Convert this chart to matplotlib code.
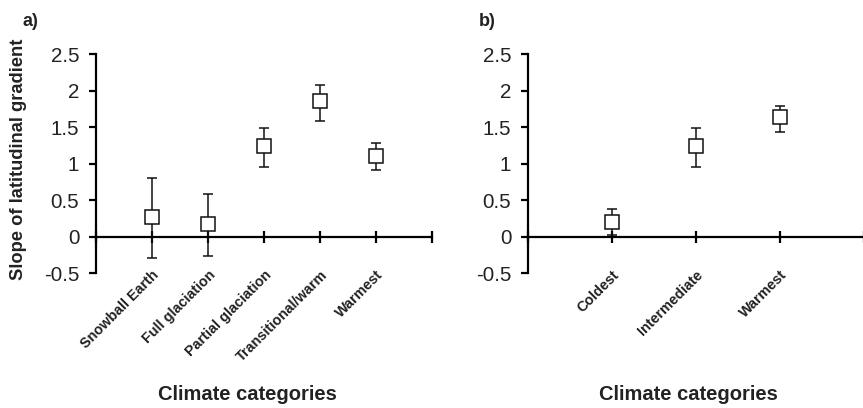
import matplotlib.pyplot as plt

plt.rcParams['font.family'] = ['Liberation Sans', 'DejaVu Sans']

# panel a
cats_a = ["Snowball Earth", "Full glaciation", "Partial glaciation", "Transitional/warm", "Warmest"]
mean_a = [0.27, 0.17, 1.245, 1.86, 1.10]
upper_a = [0.81, 0.58, 1.49, 2.07, 1.29]
lower_a = [-0.29, -0.26, 0.96, 1.59, 0.92]

# panel b
cats_b = ["Coldest", "Intermediate", "Warmest"]
mean_b = [0.21, 1.245, 1.64]
upper_b = [0.38, 1.49, 1.79]
lower_b = [0.02, 0.96, 1.44]

yticks = [-0.5, 0, 0.5, 1, 1.5, 2, 2.5]
ytick_labels = ["-0.5", "0", "0.5", "1", "1.5", "2", "2.5"]

W, H = 863, 408
fig = plt.figure(figsize=(W / 100, H / 100), dpi=100)

ax_a = fig.add_axes([96 / W, 1 - 273.5 / H, 336 / W, 219.5 / H])
ax_b = fig.add_axes([528 / W, 1 - 273.5 / H, 336 / W, 219.5 / H])


def draw_panel(ax, cats, mean, upper, lower):
    n = len(cats)
    xs = list(range(1, n + 1))
    err = [[m - lo for m, lo in zip(mean, lower)], [up - m for m, up in zip(mean, upper)]]
    ax.errorbar(xs, mean, yerr=err, fmt='none', ecolor='#111111', elinewidth=1.1,
                capsize=3.5, capthick=1.1, zorder=2)
    ax.plot(xs, mean, linestyle='none', marker='s', markersize=9.5,
            markerfacecolor='white', markeredgecolor='#111111', markeredgewidth=1.1, zorder=3)
    ax.set_xlim(0, n + 1)
    ax.set_ylim(-0.5, 2.5)
    ax.set_yticks(yticks)
    ax.set_yticklabels(ytick_labels, fontsize=14.8, color='#222222')
    ax.spines['top'].set_visible(False)
    ax.spines['right'].set_visible(False)
    ax.spines['left'].set_linewidth(1.6)
    ax.spines['bottom'].set_position(('data', 0))
    ax.spines['bottom'].set_linewidth(1.6)
    ax.tick_params(axis='y', direction='out', length=5, width=1.6, pad=7)
    ax.set_xticks(range(0, n + 2))
    ax.set_xticklabels([""] + cats + [""], rotation=45, ha='right',
                       rotation_mode='anchor', fontsize=10.4, fontweight='bold', color='#222222')
    ax.tick_params(axis='x', direction='inout', length=8, width=1.6, pad=18)
    ax.patch.set_alpha(0)


draw_panel(ax_a, cats_a, mean_a, upper_a, lower_a)
draw_panel(ax_b, cats_b, mean_b, upper_b, lower_b)

fig.text(247 / W, 1 - 394 / H, "Climate categories", ha='center', va='center',
         fontsize=14.5, fontweight='bold', color='#222222')
fig.text(688 / W, 1 - 394 / H, "Climate categories", ha='center', va='center',
         fontsize=14.5, fontweight='bold', color='#222222')
fig.text(19 / W, 1 - 159 / H, "Slope of latitudinal gradient", ha='center', va='center',
         rotation=90, fontsize=13.2, fontweight='bold', color='#222222')
fig.text(30 / W, 1 - 22 / H, "a)", ha='center', va='center', fontsize=13,
         fontweight='bold', color='#222222')
fig.text(487 / W, 1 - 22 / H, "b)", ha='center', va='center', fontsize=13,
         fontweight='bold', color='#222222')

fig.savefig("out.png", dpi=100)
